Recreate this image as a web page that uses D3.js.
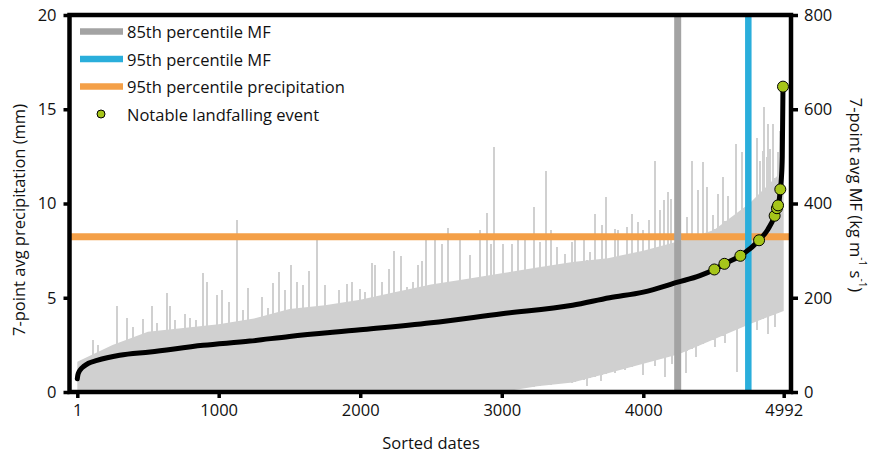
<!DOCTYPE html>
<html>
<head>
<meta charset="utf-8">
<script src="https://cdn.jsdelivr.net/npm/d3@7"></script>
<style>
  html, body { margin: 0; padding: 0; background: #fff; }
  svg { display: block; }
  text { font-family: "Open Sans", "Noto Sans", sans-serif; fill: #111; }
</style>
</head>
<body>
<svg id="chart" width="870" height="453"></svg>
<script>
// ---------------- DATA ----------------
const dateExtent = [1, 4992];
const xTickValues = [1, 1000, 2000, 3000, 4000, 4992];
const precipTicks = [0, 5, 10, 15, 20];
const mfTicks = [0, 200, 400, 600, 800];

// Sorted 7-point avg MF curve (date rank, kg m-1 s-1)
const mfDates = [1, 5, 15, 30, 45, 80, 140, 300, 515, 890, 1220, 1500, 2000, 2500, 3000, 3500, 3762, 4000, 4243, 4400, 4502, 4573, 4686, 4818, 4880, 4928, 4944, 4956, 4968, 4976, 4982, 4987];
const mfValues = [28, 36, 44, 50, 54, 61, 67, 78, 85, 99, 108, 118, 132, 147, 166, 184, 200, 212, 233, 247, 260, 272, 289, 322, 345, 374, 390, 398, 430, 455, 500, 648];

// Notable landfalling events (date rank, MF)
const eventDates = [4502, 4573, 4686, 4818, 4928, 4944, 4952, 4968, 4987];
const eventMF = [260, 272, 289, 322, 374, 390, 396, 430, 648];

// Precipitation (mm): envelope of the dense gray mass
const envDates = [1, 250, 500, 750, 1000, 1250, 1500, 1750, 2000, 2250, 2500, 2750, 3000, 3250, 3500, 3750, 4000, 4250, 4500, 4750, 4992];
const precipCore = [1.6, 2.5, 3.2, 3.4, 3.6, 3.9, 4.4, 4.6, 4.9, 5.3, 5.7, 6.0, 6.3, 6.6, 6.9, 7.1, 7.5, 8.0, 8.6, 10.0, 11.8];
const precipLow = [0, 0, 0, 0, 0, 0, 0, 0, 0, 0, 0, 0, 0, 0.3, 0.5, 1.0, 1.5, 2.0, 2.8, 3.6, 4.3];

// Precipitation spikes above the dense mass (date rank, mm)
const spikeDates = [114, 149, 279, 354, 397, 463, 527, 562, 633, 656, 691, 762, 797, 840, 887, 915, 986, 1021, 1075, 1127, 1174, 1209, 1304, 1350, 1386, 1428, 1468, 1511, 1551, 1598, 1638, 1697, 1751, 1852, 1904, 1940, 1998, 2034, 2081, 2104, 2152, 2205, 2241, 2286, 2328, 2375, 2406, 2434, 2465, 2528, 2575, 2622, 2705, 2775, 2846, 2898, 2922, 2947, 3007, 3070, 3117, 3164, 3230, 3270, 3315, 3346, 3392, 3447, 3494, 3517, 3581, 3623, 3659, 3706, 3736, 3800, 3823, 3882, 3922, 3964, 4000, 4042, 4083, 4118, 4148, 4177, 4196, 4307, 4346, 4389, 4424, 4452, 4494, 4530, 4561, 4596, 4655, 4695, 4730, 4801, 4824, 4843, 4855, 4872, 4883, 4895, 4918, 4954, 4966];
const spikeValues = [2.75, 2.5, 4.55, 3.95, 3.45, 3.88, 4.55, 3.67, 5.25, 4.55, 3.8, 4.13, 3.9, 3.8, 6.31, 5.84, 5.13, 5.43, 4.78, 9.14, 4.34, 5.54, 5.04, 4.48, 5.78, 6.37, 5.4, 6.72, 5.84, 5.66, 6.42, 8.04, 5.66, 5.4, 5.75, 5.84, 5.49, 5.31, 6.84, 6.72, 5.84, 6.54, 7.47, 7.2, 5.57, 5.84, 6.72, 6.95, 8.04, 8.04, 7.87, 8.7, 8.04, 7.25, 8.57, 9.49, 7.87, 13.0, 7.87, 7.87, 8.13, 8.04, 9.84, 7.95, 11.7, 8.6, 7.69, 7.34, 7.95, 8.04, 8.04, 7.42, 9.45, 8.87, 10.33, 8.66, 8.57, 8.75, 9.45, 9.0, 8.57, 9.1, 12.24, 9.63, 10.16, 10.63, 10.25, 9.27, 12.27, 10.69, 12.19, 10.86, 9.37, 10.51, 11.39, 10.42, 13.15, 12.71, 13.5, 13.5, 12.27, 12.8, 15.13, 12.45, 14.2, 12.9, 14.2, 12.71, 13.86];

// Precipitation dips below the dense mass (date rank, mm)
const dipDates = [3600, 3700, 3800, 3871, 4000, 4080, 4150, 4200, 4300, 4370, 4440, 4510, 4580, 4660, 4800, 4880, 4930];
const dipValues = [0.3, 0.6, 1.0, 1.16, 0.9, 1.4, 0.8, 1.5, 1.0, 1.85, 2.75, 2.4, 2.6, 1.07, 3.3, 3.1, 3.45];

// Reference thresholds
const p85MF = 4243;
const p95MF = 4742;
const p95Precip = 8.24;

const legendItems = ["85th percentile MF", "95th percentile MF", "95th percentile precipitation", "Notable landfalling event"];

// ---------------- DRAW ----------------
(function () {
const svg = d3.select("#chart");
const pl = 69.5, pr = 791, pt = 15, pb = 392;
const fs = 16.5;

const x = d3.scaleLinear().domain(dateExtent).range([77.3, 783.7]);
const yP = d3.scaleLinear().domain([0, 20]).range([pb, pt]);
const yM = d3.scaleLinear().domain([0, 800]).range([pb, pt]);

const gray = "#d0d0d0";
const colP85 = "#a3a3a3", colP95 = "#2aaedb", colPrecip = "#f4a048", colEvent = "#a6c51a";

const coreAt = d3.scaleLinear().domain(envDates).range(precipCore);
const lowAt = d3.scaleLinear().domain(envDates).range(precipLow);

const plot = svg.append("g");

const env = envDates.map((d, i) => ({d, lo: precipLow[i], hi: precipCore[i]}));
plot.append("path")
  .datum(env)
  .attr("fill", gray)
  .attr("d", d3.area().x(p => x(p.d)).y0(p => yP(p.lo)).y1(p => yP(p.hi)));

plot.selectAll("line.spike").data(spikeDates).join("line")
  .attr("class", "spike")
  .attr("x1", d => x(d)).attr("x2", d => x(d))
  .attr("y1", d => yP(lowAt(d)))
  .attr("y2", (d, i) => yP(spikeValues[i]))
  .attr("stroke", gray).attr("stroke-width", 2)
  .attr("shape-rendering", "crispEdges");

plot.selectAll("line.dip").data(dipDates).join("line")
  .attr("class", "dip")
  .attr("x1", d => x(d)).attr("x2", d => x(d))
  .attr("y1", d => yP(coreAt(d)))
  .attr("y2", (d, i) => yP(dipValues[i]))
  .attr("stroke", gray).attr("stroke-width", 2)
  .attr("shape-rendering", "crispEdges");

plot.append("line")
  .attr("x1", pl).attr("x2", pr)
  .attr("y1", yP(p95Precip)).attr("y2", yP(p95Precip))
  .attr("stroke", colPrecip).attr("stroke-width", 7);

plot.append("line")
  .attr("x1", x(p85MF)).attr("x2", x(p85MF))
  .attr("y1", pt).attr("y2", pb)
  .attr("stroke", colP85).attr("stroke-width", 7);
plot.append("line")
  .attr("x1", x(p95MF)).attr("x2", x(p95MF))
  .attr("y1", pt).attr("y2", pb)
  .attr("stroke", colP95).attr("stroke-width", 6.5);

const mf = mfDates.map((d, i) => ({d, v: mfValues[i]}));
plot.append("path")
  .datum(mf)
  .attr("fill", "none")
  .attr("stroke", "#000")
  .attr("stroke-width", 5)
  .attr("stroke-linejoin", "round")
  .attr("stroke-linecap", "round")
  .attr("d", d3.line().x(p => x(p.d)).y(p => yM(p.v)).curve(d3.curveMonotoneX));

plot.selectAll("circle.ev").data(eventDates).join("circle")
  .attr("class", "ev")
  .attr("cx", d => x(d))
  .attr("cy", (d, i) => yM(eventMF[i]))
  .attr("r", 5.5)
  .attr("fill", colEvent).attr("stroke", "#000").attr("stroke-width", 1);

const axStyle = g => {
  g.select(".domain").remove();
  g.selectAll(".tick line").attr("stroke", "#000").attr("stroke-width", 3.5);
  g.selectAll(".tick text").attr("font-size", fs).attr("fill", "#111")
    .attr("font-family", "'Open Sans', 'Noto Sans', sans-serif");
};
svg.append("g").attr("transform", `translate(${pl},0)`)
  .call(d3.axisLeft(yP).tickValues(precipTicks).tickSize(6).tickPadding(7)).call(axStyle);
svg.append("g").attr("transform", `translate(${pr},0)`)
  .call(d3.axisRight(yM).tickValues(mfTicks).tickSize(7).tickPadding(6)).call(axStyle);
svg.append("g").attr("transform", `translate(0,${pb})`)
  .call(d3.axisBottom(x).tickValues(xTickValues).tickFormat(d3.format("d")).tickSize(6).tickPadding(6)).call(axStyle);

svg.append("rect")
  .attr("x", pl).attr("y", pt)
  .attr("width", pr - pl).attr("height", pb - pt)
  .attr("fill", "none").attr("stroke", "#000").attr("stroke-width", 4.5);

svg.append("text").attr("x", 431).attr("y", 442)
  .attr("text-anchor", "middle").attr("dominant-baseline", "central")
  .attr("font-size", fs).text("Sorted dates");
svg.append("text")
  .attr("transform", "translate(18,220) rotate(-90)")
  .attr("text-anchor", "middle").attr("dominant-baseline", "central")
  .attr("font-size", fs).text("7-point avg precipitation (mm)");
const rt = svg.append("text")
  .attr("transform", "translate(857,195) rotate(90)")
  .attr("text-anchor", "middle").attr("dominant-baseline", "central")
  .attr("font-size", fs);
rt.append("tspan").text("7-point avg MF (kg m");
rt.append("tspan").attr("dy", -6).attr("font-size", 10).text("-1");
rt.append("tspan").attr("dy", 6).text(" s");
rt.append("tspan").attr("dy", -6).attr("font-size", 10).text("-1");
rt.append("tspan").attr("dy", 6).text(")");

const lg = svg.append("g");
const legY = [31.5, 59, 86.5, 114];
const legCols = [colP85, colP95, colPrecip];
legendItems.forEach((t, i) => {
  if (i < 3) {
    lg.append("line").attr("x1", 80).attr("x2", 123)
      .attr("y1", legY[i]).attr("y2", legY[i])
      .attr("stroke", legCols[i]).attr("stroke-width", 6.5);
  } else {
    lg.append("circle").attr("cx", 101).attr("cy", legY[i]).attr("r", 4)
      .attr("fill", colEvent).attr("stroke", "#000").attr("stroke-width", 1);
  }
  lg.append("text").attr("x", 127).attr("y", legY[i])
    .attr("dominant-baseline", "central").attr("font-size", fs).text(t);
});
})();
</script>
</body>
</html>
